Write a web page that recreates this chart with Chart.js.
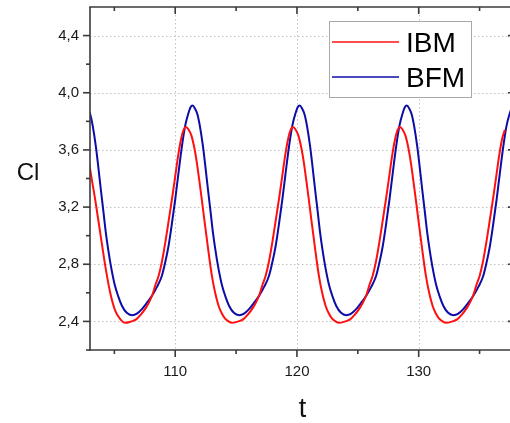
<!DOCTYPE html>
<html>
<head>
<meta charset="utf-8">
<script src="https://cdn.jsdelivr.net/npm/chart.js@4/dist/chart.umd.min.js"></script>
<style>
  html, body { margin: 0; padding: 0; background: #fff; }
  #wrap { width: 510px; height: 423px; position: relative; }
</style>
</head>
<body>
<div id="wrap"><canvas id="clChart"></canvas></div>
<script>
// values
const ibmTime = [
  102.90, 103.02, 103.43, 103.84, 104.25, 104.66, 105.07, 105.45, 105.89, 106.39, 106.79, 107.19, 107.59, 107.89, 108.14, 108.39, 108.64, 108.89, 109.19, 109.49, 109.74, 109.99, 110.24, 110.49, 110.69,
  110.88, 111.08, 111.33, 111.58, 111.78, 111.98, 112.18, 112.38, 112.60, 112.80, 113.01, 113.28, 113.56, 113.83, 114.10, 114.38, 114.66, 115.18, 115.58, 115.98, 116.38, 116.68, 116.93, 117.18, 117.43, 117.68, 117.98, 118.28, 118.53, 118.78, 119.03, 119.28, 119.48,
  119.67, 119.87, 120.12, 120.37, 120.57, 120.77, 120.97, 121.17, 121.39, 121.59, 121.80, 122.07, 122.35, 122.62, 122.89, 123.17, 123.45, 123.97, 124.37, 124.77, 125.17, 125.47, 125.72, 125.97, 126.22, 126.47, 126.77, 127.07, 127.32, 127.57, 127.82, 128.07, 128.27,
  128.46, 128.66, 128.91, 129.16, 129.36, 129.56, 129.76, 129.96, 130.18, 130.38, 130.59, 130.86, 131.14, 131.41, 131.68, 131.96, 132.24, 132.76, 133.16, 133.56, 133.96, 134.26, 134.51, 134.76, 135.01, 135.26, 135.56, 135.86, 136.11, 136.36, 136.61, 136.86, 137.08
];
const ibmCl = [
  3.53, 3.46, 3.25, 3.02, 2.79, 2.60, 2.475, 2.42, 2.39, 2.40, 2.414, 2.45, 2.495, 2.54, 2.59, 2.66, 2.72, 2.81, 2.955, 3.12, 3.26, 3.41, 3.56, 3.68, 3.74,
  3.76, 3.745, 3.70, 3.61, 3.51, 3.385, 3.255, 3.12, 2.975, 2.845, 2.72, 2.60, 2.51, 2.455, 2.42, 2.40, 2.39, 2.40, 2.414, 2.45, 2.495, 2.54, 2.59, 2.66, 2.72, 2.81, 2.955, 3.12, 3.26, 3.41, 3.56, 3.68, 3.74,
  3.76, 3.745, 3.70, 3.61, 3.51, 3.385, 3.255, 3.12, 2.975, 2.845, 2.72, 2.60, 2.51, 2.455, 2.42, 2.40, 2.39, 2.40, 2.414, 2.45, 2.495, 2.54, 2.59, 2.66, 2.72, 2.81, 2.955, 3.12, 3.26, 3.41, 3.56, 3.68, 3.74,
  3.76, 3.745, 3.70, 3.61, 3.51, 3.385, 3.255, 3.12, 2.975, 2.845, 2.72, 2.60, 2.51, 2.455, 2.42, 2.40, 2.39, 2.40, 2.414, 2.45, 2.495, 2.54, 2.59, 2.66, 2.72, 2.81, 2.955, 3.12, 3.26, 3.41, 3.56, 3.68, 3.74
];
const bfmTime = [
  102.90, 103.02, 103.22, 103.48, 103.69, 103.89, 104.10, 104.30, 104.50, 104.71, 105.02, 105.32, 105.62, 106.02, 106.46, 106.82, 107.26, 107.67, 108.09, 108.52, 108.90, 109.17, 109.45, 109.72, 110.00, 110.27, 110.55, 110.82, 111.09, 111.27,
  111.42, 111.62, 111.82, 112.02, 112.28, 112.49, 112.69, 112.90, 113.10, 113.30, 113.51, 113.82, 114.12, 114.42, 114.82, 115.26, 115.62, 116.06, 116.47, 116.89, 117.32, 117.70, 117.97, 118.25, 118.52, 118.80, 119.07, 119.35, 119.62, 119.89, 120.07,
  120.22, 120.42, 120.62, 120.82, 121.08, 121.29, 121.49, 121.70, 121.90, 122.10, 122.31, 122.62, 122.92, 123.22, 123.62, 124.06, 124.42, 124.86, 125.27, 125.69, 126.12, 126.50, 126.77, 127.05, 127.32, 127.60, 127.87, 128.15, 128.42, 128.69, 128.87,
  129.02, 129.22, 129.42, 129.62, 129.88, 130.09, 130.29, 130.50, 130.70, 130.90, 131.11, 131.42, 131.72, 132.02, 132.42, 132.86, 133.22, 133.66, 134.07, 134.49, 134.92, 135.30, 135.57, 135.85, 136.12, 136.40, 136.67, 136.95, 137.22, 137.49, 137.67
];
const bfmCl = [
  3.875, 3.85, 3.77, 3.625, 3.475, 3.323, 3.17, 3.021, 2.90, 2.79, 2.66, 2.575, 2.51, 2.46, 2.444, 2.452, 2.486, 2.53, 2.579, 2.645, 2.718, 2.81, 2.928, 3.08, 3.253, 3.44, 3.625, 3.77, 3.858, 3.90,
  3.91, 3.89, 3.85, 3.77, 3.625, 3.475, 3.323, 3.17, 3.021, 2.90, 2.79, 2.66, 2.575, 2.51, 2.46, 2.444, 2.452, 2.486, 2.53, 2.579, 2.645, 2.718, 2.81, 2.928, 3.08, 3.253, 3.44, 3.625, 3.77, 3.858, 3.90,
  3.91, 3.89, 3.85, 3.77, 3.625, 3.475, 3.323, 3.17, 3.021, 2.90, 2.79, 2.66, 2.575, 2.51, 2.46, 2.444, 2.452, 2.486, 2.53, 2.579, 2.645, 2.718, 2.81, 2.928, 3.08, 3.253, 3.44, 3.625, 3.77, 3.858, 3.90,
  3.91, 3.89, 3.85, 3.77, 3.625, 3.475, 3.323, 3.17, 3.021, 2.90, 2.79, 2.66, 2.575, 2.51, 2.46, 2.444, 2.452, 2.486, 2.53, 2.579, 2.645, 2.718, 2.81, 2.928, 3.08, 3.253, 3.44, 3.625, 3.77, 3.858, 3.90
];

const xMajorTicks = [110, 120, 130];
const xMinorTicks = [105, 115, 125, 135];
const yMajorTicks = [2.4, 2.8, 3.2, 3.6, 4.0, 4.4];
const yMinorTicks = [2.2, 2.6, 3.0, 3.4, 3.8, 4.2];

const seriesNames = ['IBM', 'BFM'];
const seriesColors = ['#ff1010', '#0c0ca6'];

const FONT = '"Liberation Sans", Arial, sans-serif';
const AXIS = '#3a3a3a';

function toPoints(ts, vs) {
    return ts.map((t, i) => ({ x: t, y: vs[i] }));
}

function seg(ctx, x1, y1, x2, y2) {
    ctx.beginPath();
    ctx.moveTo(x1, y1);
    ctx.lineTo(x2, y2);
    ctx.stroke();
}

// dotted grid, frame, ticks, legend and the two axis titles
const originLook = {
    id: 'originLook',
    beforeDatasetsDraw(chart) {
        const { ctx, chartArea: a, scales: { x, y } } = chart;
        ctx.save();
        ctx.strokeStyle = '#c2c2c2';
        ctx.lineWidth = 1;
        ctx.setLineDash([1.5, 2.5]);
        xMajorTicks.forEach(v => {
            const px = Math.round(x.getPixelForValue(v)) + 0.5;
            seg(ctx, px, a.top, px, a.bottom);
        });
        yMajorTicks.forEach(v => {
            const py = Math.round(y.getPixelForValue(v)) + 0.5;
            seg(ctx, a.left, py, a.right, py);
        });
        ctx.restore();
    },
    afterDatasetsDraw(chart) {
        const { ctx, chartArea: a, scales: { x, y } } = chart;
        ctx.save();
        ctx.strokeStyle = AXIS;
        ctx.lineWidth = 1.6;
        // frame (right edge sits just outside the picture)
        seg(ctx, a.left, a.top, a.left, a.bottom + 0.8);
        seg(ctx, a.left - 0.8, a.bottom, a.right + 2, a.bottom);
        seg(ctx, a.left - 0.8, a.top, a.right + 2, a.top);

        // bottom / left ticks outward, top / right ticks inward
        xMajorTicks.forEach(v => {
            const px = x.getPixelForValue(v);
            seg(ctx, px, a.bottom, px, a.bottom + 7);
            seg(ctx, px, a.top, px, a.top + 7);
        });
        xMinorTicks.forEach(v => {
            const px = x.getPixelForValue(v);
            seg(ctx, px, a.bottom, px, a.bottom + 4);
            seg(ctx, px, a.top, px, a.top + 4);
        });
        yMajorTicks.forEach(v => {
            const py = y.getPixelForValue(v);
            seg(ctx, a.left - 7, py, a.left, py);
            seg(ctx, a.right - 2, py, a.right, py);
        });
        yMinorTicks.forEach(v => {
            const py = y.getPixelForValue(v);
            seg(ctx, a.left - 4, py, a.left, py);
        });

        // axis titles
        ctx.fillStyle = '#111';
        ctx.textBaseline = 'alphabetic';
        ctx.textAlign = 'center';
        ctx.font = '24px ' + FONT;
        ctx.fillText('Cl', 28, 180);
        ctx.font = '27px ' + FONT;
        ctx.fillText('t', 302.5, 416.5);

        // legend box
        const bx = 329.5, by = 21.5, bw = 142, bh = 76;
        ctx.fillStyle = '#fff';
        ctx.fillRect(bx, by, bw, bh);
        ctx.strokeStyle = '#a8a8a8';
        ctx.lineWidth = 1;
        ctx.strokeRect(bx, by, bw, bh);
        const rows = [42, 77];
        const baselines = [51.5, 86.5];
        chart.data.datasets.forEach((ds, i) => {
            ctx.strokeStyle = ds.borderColor;
            ctx.lineWidth = 1.6;
            seg(ctx, 332, rows[i], 399, rows[i]);
            ctx.fillStyle = '#000';
            ctx.textAlign = 'left';
            ctx.font = '28px ' + FONT;
            ctx.fillText(ds.label, 406, baselines[i]);
        });
        ctx.restore();
    }
};

function noEdgePadding(scale) {
    scale.paddingTop = 0;
    scale.paddingBottom = 0;
    scale.paddingLeft = 0;
    scale.paddingRight = 0;
}

const ctx = document.getElementById('clChart').getContext('2d');

new Chart(ctx, {
    type: 'line',
    data: {
        datasets: [
            {
                label: seriesNames[0],
                data: toPoints(ibmTime, ibmCl),
                borderColor: seriesColors[0],
                borderWidth: 2,
                pointRadius: 0,
                fill: false,
                cubicInterpolationMode: 'monotone'
            },
            {
                label: seriesNames[1],
                data: toPoints(bfmTime, bfmCl),
                borderColor: seriesColors[1],
                borderWidth: 2,
                pointRadius: 0,
                fill: false,
                cubicInterpolationMode: 'monotone'
            }
        ]
    },
    options: {
        responsive: true,
        maintainAspectRatio: false,
        animation: false,
        layout: { padding: { top: 7, right: 0, left: 0, bottom: 0 } },
        scales: {
            x: {
                type: 'linear',
                min: 103,
                max: 137.5,
                afterBuildTicks: scale => { scale.ticks = xMajorTicks.map(v => ({ value: v })); },
                afterFit: scale => { scale.height = 73; noEdgePadding(scale); },
                grid: { display: false, drawTicks: false },
                border: { display: false },
                ticks: {
                    padding: 13,
                    maxRotation: 0,
                    color: '#1a1a1a',
                    font: { family: FONT, size: 15 },
                    callback: v => String(v)
                }
            },
            y: {
                min: 2.2,
                max: 4.6,
                afterBuildTicks: scale => { scale.ticks = yMajorTicks.map(v => ({ value: v })); },
                afterFit: scale => { scale.width = 90; noEdgePadding(scale); },
                grid: { display: false, drawTicks: false },
                border: { display: false },
                ticks: {
                    padding: 11,
                    color: '#1a1a1a',
                    font: { family: FONT, size: 15 },
                    callback: v => v.toFixed(1).replace('.', ',')
                }
            }
        },
        plugins: {
            legend: { display: false },
            tooltip: { enabled: false }
        }
    },
    plugins: [originLook]
});
</script>
</body>
</html>
